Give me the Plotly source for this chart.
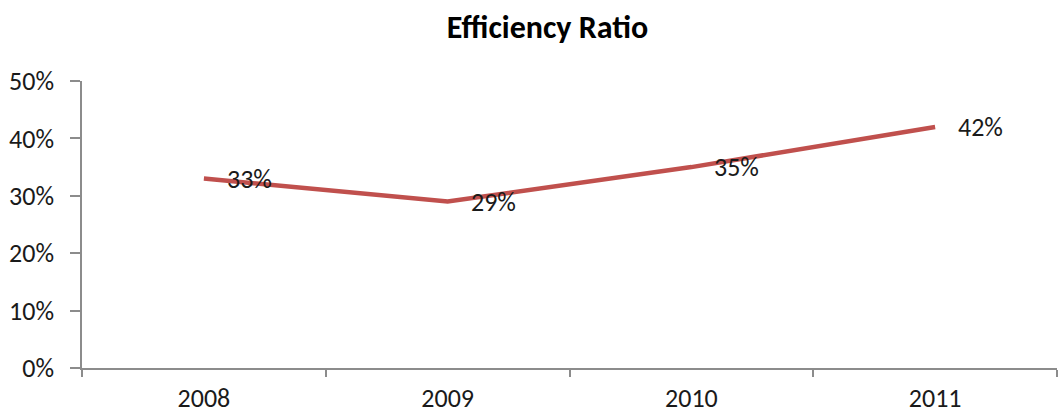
import plotly.graph_objects as go

years = ["2008", "2009", "2010", "2011"]
efficiency = [0.33, 0.29, 0.35, 0.42]
y_ticks = [0, 0.1, 0.2, 0.3, 0.4, 0.5]
y_tick_text = ["0%", "10%", "20%", "30%", "40%", "50%"]

FONT = "Carlito, Calibri, Lato, sans-serif"
AXIS_GREY = "#8c8c8c"
TEXT = "#1a1a1a"

fig = go.Figure()
fig.add_trace(go.Scatter(
    x=years, y=efficiency, mode="lines",
    line=dict(color="#C0504D", width=4.5),
    hoverinfo="skip", showlegend=False,
))

# value labels sit to the right of each point
for i, v in enumerate(efficiency):
    fig.add_annotation(
        x=i, y=v, xref="x", yref="y", text=f"{round(v * 100)}%",
        showarrow=False, xanchor="left", yanchor="middle", xshift=21,
        font=dict(family=FONT, size=26, color=TEXT),
    )

fig.update_layout(
    width=1059, height=416,
    margin=dict(l=82, r=2, t=81, b=45),
    paper_bgcolor="white", plot_bgcolor="white",
    title=dict(
        text="<b>Efficiency Ratio</b>", x=0.517, xanchor="center",
        y=0.935, yanchor="middle",
        font=dict(family=FONT, size=32, color="black"),
    ),
    font=dict(family=FONT, color=TEXT),
)
fig.update_xaxes(
    type="category", range=[-0.5, 3.5],
    showline=True, linecolor=AXIS_GREY, linewidth=1.5,
    ticks="outside", tickson="boundaries", ticklen=7,
    tickcolor=AXIS_GREY, tickwidth=1.5, ticklabelstandoff=6,
    showgrid=False, zeroline=False,
    tickfont=dict(family=FONT, size=26, color=TEXT),
)
fig.update_yaxes(
    range=[0, 0.5], tickvals=y_ticks, ticktext=y_tick_text,
    showline=True, linecolor=AXIS_GREY, linewidth=1.5,
    ticks="outside", ticklen=10, tickcolor=AXIS_GREY, tickwidth=1.5,
    ticklabelstandoff=11,
    showgrid=False, zeroline=False,
    tickfont=dict(family=FONT, size=26, color=TEXT),
)

fig.write_html("out.html")
